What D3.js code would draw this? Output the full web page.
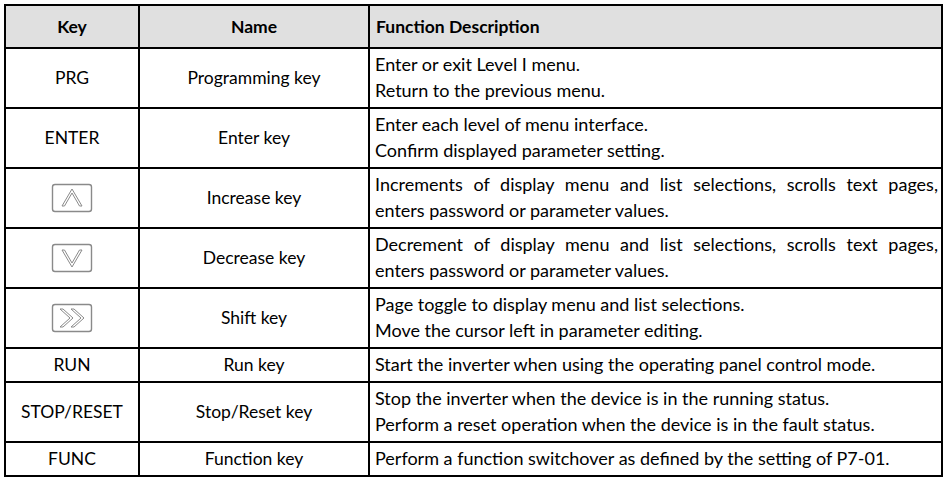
<!DOCTYPE html>
<html><head><meta charset="utf-8">
<script src="https://cdn.jsdelivr.net/npm/d3@7"></script>
<style>html,body{margin:0;padding:0;background:#fff}svg{display:block}</style>
</head><body><svg id="c" width="947" height="490"></svg>
<script>
const headers = ["Key", "Name", "Function Description"];
const keys = ["PRG", "ENTER", "icon:up", "icon:down", "icon:shift", "RUN", "STOP/RESET", "FUNC"];
const names = ["Programming key", "Enter key", "Increase key", "Decrease key", "Shift key", "Run key", "Stop/Reset key", "Function key"];
const descriptions = [
  ["Enter or exit Level I menu.", "Return to the previous menu."],
  ["Enter each level of menu interface.", "Confirm displayed parameter setting."],
  ["Increments of display menu and list selections, scrolls text pages,", "enters password or parameter values."],
  ["Decrement of display menu and list selections, scrolls text pages,", "enters password or parameter values."],
  ["Page toggle to display menu and list selections.", "Move the cursor left in parameter editing."],
  ["Start the inverter when using the operating panel control mode."],
  ["Stop the inverter when the device is in the running status.", "Perform a reset operation when the device is in the fault status."],
  ["Perform a function switchover as defined by the setting of P7-01."]
];
const justified = [[false,false],[false,false],[true,false],[true,false],[false,false],[false],[false,false],[false]];

const svg = d3.select("#c");
const FONT = "Lato, 'Liberation Sans', sans-serif";
const FS = 18, LH = 26, PAD = 8, HEADER_H = 43;
const top0 = 5;
const colX = [5, 139, 369, 942];

const rowH = descriptions.map(d => PAD + d.length * LH);
const rowY = [];
let acc = top0 + HEADER_H;
rowH.forEach(h => { rowY.push(acc); acc += h; });

svg.append("rect").attr("x", colX[0]).attr("y", top0).attr("width", colX[3]-colX[0]).attr("height", HEADER_H).attr("fill", "#e0e0e0");

headers.forEach((h, i) => {
  const t = svg.append("text").attr("y", top0 + HEADER_H/2).attr("dy", "0.35em")
    .attr("font-family", FONT).attr("font-size", FS - 0.5).attr("font-weight", "bold").attr("fill", "#000").text(h);
  if (i < 2) t.attr("x", (colX[i]+colX[i+1])/2).attr("text-anchor", "middle");
  else t.attr("x", colX[2] + 7);
});

const g = svg.selectAll("g.row").data(descriptions).join("g").attr("class", "row")
  .attr("transform", (d, i) => `translate(0,${rowY[i]})`);

g.each(function(d, i) {
  const sel = d3.select(this);
  const cy = rowH[i] / 2;
  const cx = (colX[0] + colX[1]) / 2;
  const k = keys[i];
  if (k.startsWith("icon:")) {
    const ig = sel.append("g").attr("transform", `translate(${cx},${cy})`);
    ig.append("rect").attr("x", -19.5).attr("y", -13.5).attr("width", 39).attr("height", 27).attr("rx", 2.5)
      .attr("fill", "#fff").attr("stroke", "#8a8a8a").attr("stroke-width", 1.4);
    const kind = k.slice(5);
    let paths = [];
    if (kind === "up") paths = ["M-10,8 L0,-9 L10,8 L7.5,8 L0,-5 L-7.5,8 Z"];
    else if (kind === "down") paths = ["M-10,-8 L0,9 L10,-8 L7.5,-8 L0,5 L-7.5,-8 Z"];
    else paths = ["M-12,-9 L-2,0 L-12,9 L-9,9 L1,0 L-9,-9 Z", "M-1,-9 L9,0 L-1,9 L2,9 L12,0 L2,-9 Z"];
    paths.forEach(p => ig.append("path").attr("d", p).attr("fill", "#fff").attr("stroke", "#8a8a8a").attr("stroke-width", 1).attr("stroke-linejoin", "round"));
  } else {
    sel.append("text").attr("x", cx).attr("y", cy).attr("dy", "0.35em").attr("text-anchor", "middle")
      .attr("font-family", FONT).attr("font-size", FS - 0.5).attr("fill", "#000").text(k);
  }
  sel.append("text").attr("x", (colX[1] + colX[2]) / 2).attr("y", cy).attr("dy", "0.35em").attr("text-anchor", "middle")
    .attr("font-family", FONT).attr("font-size", FS - 0.5).attr("fill", "#000").text(names[i]);
  const n = d.length;
  d.forEach((line, j) => {
    const y = cy + (j - (n - 1) / 2) * LH;
    const x0 = colX[2] + 6;
    const t = sel.append("text").attr("x", x0).attr("y", y).attr("dy", "0.35em")
      .attr("font-family", FONT).attr("font-size", FS).attr("fill", "#000").text(line);
    if (justified[i][j]) {
      const target = colX[3] - 4 - x0;
      const natural = t.node().getComputedTextLength();
      const spaces = (line.match(/ /g) || []).length;
      if (spaces > 0 && target > natural) t.attr("word-spacing", (target - natural) / spaces);
    }
  });
});

const bottom = acc;
const stroke = "#000", SW = 2;
const hl = [top0, top0 + HEADER_H, ...rowY.slice(1), bottom];
svg.selectAll("line.h").data(hl).join("line").attr("class", "h")
  .attr("x1", colX[0] - 1).attr("x2", colX[3] + 1).attr("y1", d => d).attr("y2", d => d)
  .attr("stroke", stroke).attr("stroke-width", SW);
svg.selectAll("line.v").data(colX).join("line").attr("class", "v")
  .attr("x1", d => d).attr("x2", d => d).attr("y1", top0 - 1).attr("y2", bottom + 1)
  .attr("stroke", stroke).attr("stroke-width", SW);
</script></body></html>
